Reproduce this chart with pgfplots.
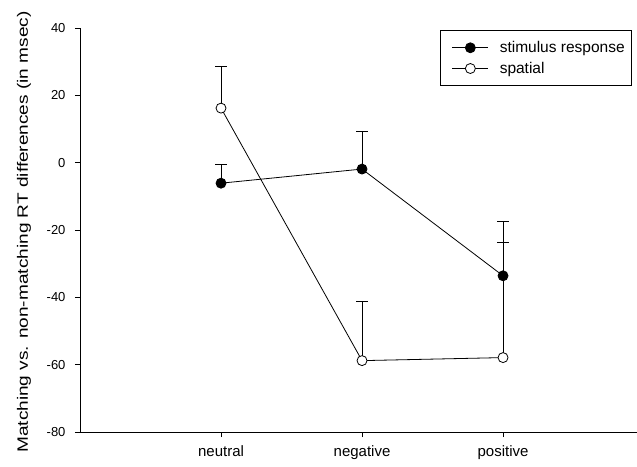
\documentclass[border=0pt]{standalone}
\usepackage{pgfplots}
\pgfplotsset{compat=1.18}
\usepackage{fontspec}
\setmainfont{Liberation Sans}

\pgfplotstableread{
x   y      e
1   -6.1   5.6
2   -1.9   11.1
3   -33.6  16.3
}\stimresp
\pgfplotstableread{
x   y      e
1   16.2   12.3
2   -58.8  17.5
3   -57.9  34.1
}\spatial

\begin{document}
\begin{tikzpicture}
\begin{axis}[
  name=ax,
  scale only axis,
  width=557pt, height=404pt,
  xmin=0, xmax=3.95,
  ymin=-80, ymax=40,
  axis x line*=bottom,
  axis y line*=left,
  axis line style={line width=0.8pt},
  tick align=outside,
  major tick length=5pt,
  tick style={line width=0.8pt, black},
  xtick={1,2,3},
  xticklabels={neutral,negative,positive},
  ytick={-80,-60,-40,-20,0,20,40},
  yticklabels={-80,-60,-40,-20,0,20,40},
  x tick label style={font=\fontsize{15}{18}\selectfont, yshift=-5pt},
  y tick label style={font=\fontsize{13}{15}\selectfont, xshift=-6pt},
  ylabel={Matching vs. non-matching RT differences (in msec)},
  every axis y label/.style={
    at={(rel axis cs:0,0.5)}, xshift=-56pt, yshift=-2pt,
    anchor=center, inner sep=0pt, rotate=90, xscale=1.27,
    font=\fontsize{15}{18}\selectfont},
  legend style={
    at={(axis cs:3.915,39.4)}, anchor=north east,
    draw=black, line width=0.8pt,
    font=\fontsize{15.5}{18}\selectfont,
    inner xsep=5pt, inner ysep=9pt,
    row sep=4pt, column sep=9pt,
    cells={anchor=west},
  },
  legend image code/.code={
    \path (-7pt,0pt);
    \draw[mark repeat=2, mark phase=2, #1]
      plot coordinates {(0pt,0pt) (18pt,0pt) (36pt,0pt)};
  },
  error bars/error bar style={line width=0.8pt, black},
  error bars/error mark options={rotate=90, mark size=6pt, line width=0.8pt, black},
]
% upward error bars first, so that the circles sit on top of them
\addplot[draw=none, forget plot, error bars/.cd, y dir=plus, y explicit]
  table[x=x, y=y, y error=e] {\stimresp};
\addplot[draw=none, forget plot, error bars/.cd, y dir=plus, y explicit]
  table[x=x, y=y, y error=e] {\spatial};
% stimulus-response condition
\addplot[black, line width=0.8pt, mark=*, mark size=5pt, mark options={fill=black}]
  table[x=x, y=y] {\stimresp};
\addlegendentry{stimulus response}
% spatial condition
\addplot[black, line width=0.8pt, mark=*, mark size=5pt, mark options={fill=white}]
  table[x=x, y=y] {\spatial};
\addlegendentry{spatial}
\end{axis}
\pgfresetboundingbox
\path ([xshift=-80pt,yshift=-34pt]ax.south west) rectangle ([yshift=28pt]ax.north east);
\end{tikzpicture}
\end{document}
